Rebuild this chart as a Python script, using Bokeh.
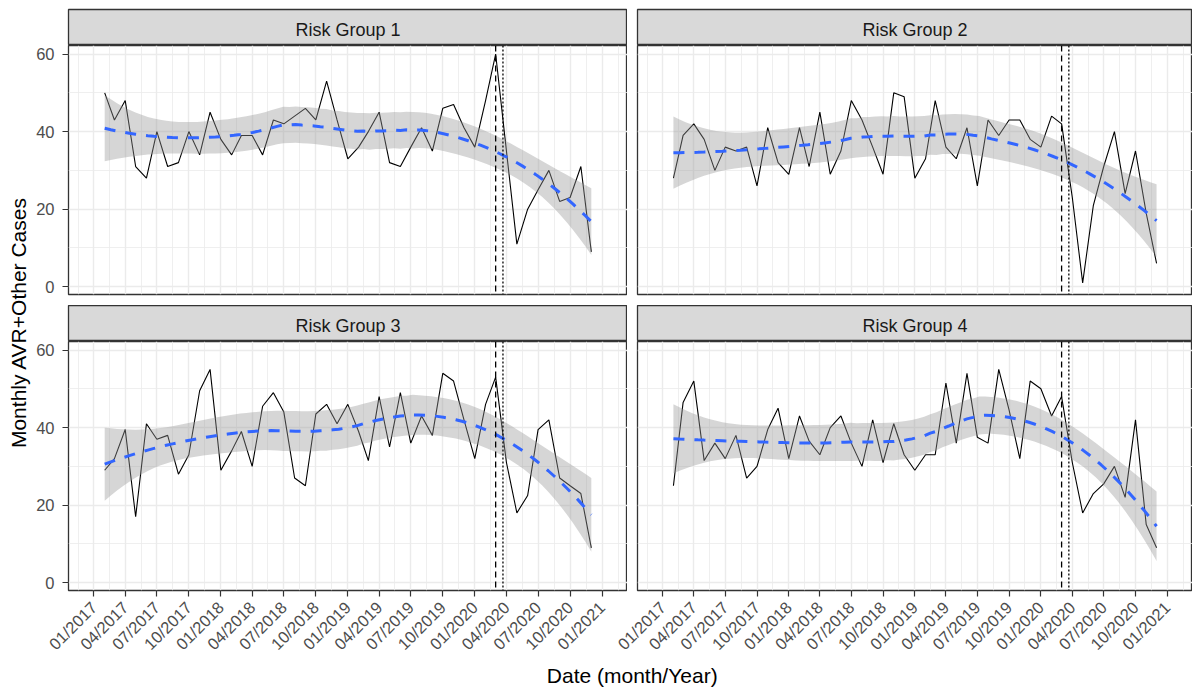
import numpy as np
import pandas as pd
from math import pi
from bokeh.plotting import figure
from bokeh.models import Range1d, FixedTicker, Span, DatetimeTickFormatter
from bokeh.layouts import row, column
from bokeh.embed import file_html
from bokeh.resources import INLINE
from bokeh.core.properties import value

# ---------------- data ----------------
group_names = ["Risk Group 1", "Risk Group 2", "Risk Group 3", "Risk Group 4"]
months = pd.date_range("2017-02-01", "2020-12-01", freq="MS")   # 47 monthly points

rg1 = [50, 43, 48, 31, 28, 40, 31, 32, 40, 34, 45, 38, 34, 39, 39, 34, 43, 42, 44, 46,
       43, 53, 43, 33, 36, 40, 45, 32, 31, 36, 41, 35, 46, 47, 41, 36, 48, 60, 35, 11,
       20, 25, 30, 22, 23, 31, 9]
rg2 = [28, 39, 42, 38, 30, 36, 35, 36, 26, 41, 32, 29, 41, 31, 45, 29, 35, 48, 43, 36,
       29, 50, 49, 28, 33, 48, 36, 33, 41, 26, 43, 39, 43, 43, 38, 36, 44, 42, 23, 1,
       21, 31, 40, 24, 35, 19, 6]
rg3 = [29, 32, 39.5, 17, 41, 37, 38, 28, 33, 49.5, 55, 29, 34, 39, 30, 45.5, 49, 44, 27, 25,
       43.5, 46, 41, 46, 39, 31.5, 48, 35, 49, 36, 43, 38, 54, 52, 42, 32, 46, 53, 31, 18,
       22.5, 39.5, 42, 27, 25, 23, 9]
rg4 = [25, 46.5, 52, 31.5, 36, 32, 38, 27, 30, 39.5, 45, 32, 43, 36.5, 33, 40, 43, 36, 30, 42,
       31, 41, 33, 29, 33, 33, 51.5, 36, 54, 37.5, 36, 55, 44.5, 32, 52, 50, 43, 48, 31, 18,
       23, 25.5, 30, 22, 42, 15, 9]
series = [rg1, rg2, rg3, rg4]

tick_labels = ["01/2017", "04/2017", "07/2017", "10/2017", "01/2018", "04/2018", "07/2018",
               "10/2018", "01/2019", "04/2019", "07/2019", "10/2019", "01/2020", "04/2020",
               "07/2020", "10/2020", "01/2021"]
y_ticks = [0, 20, 40, 60]
y_minor = [10, 30, 50]
vline_dashed = "2020-03-01"
vline_dotted = "2020-03-22"

y_title = "Monthly AVR+Other Cases"
x_title = "Date (month/Year)"

# ---------------- helpers ----------------
MS_DAY = 86400000.0

def to_ms(ts):
    return np.array([pd.Timestamp(t).timestamp() * 1000.0 for t in ts])

x_ms = to_ms(months)
tick_ms = to_ms(pd.to_datetime(tick_labels, format="%m/%Y"))
mids = (tick_ms[:-1] + tick_ms[1:]) / 2
minor_ms = np.concatenate([[tick_ms[0] - (tick_ms[1] - tick_ms[0]) / 2], mids,
                           [tick_ms[-1] + (tick_ms[-1] - tick_ms[-2]) / 2]])
pad = 0.05 * (tick_ms[-1] - tick_ms[0])
x_range = Range1d(tick_ms[0] - pad, tick_ms[-1] + pad)
y_range = Range1d(-2.0, 62.2)


def t_quantile(df, z=1.959963985):
    g1 = (z**3 + z) / 4
    g2 = (5 * z**5 + 16 * z**3 + 3 * z) / 96
    g3 = (3 * z**7 + 19 * z**5 + 17 * z**3 - 15 * z) / 384
    return z + g1 / df + g2 / df**2 + g3 / df**3


def loess_smooth(xd, y, xs, span=0.75):
    """Local quadratic regression (loess) with 95% band, as geom_smooth does."""
    y = np.asarray(y, float)
    n = len(xd)
    q = int(np.floor(n * span))

    def row_w(x0):
        d = np.abs(xd - x0)
        h = np.sort(d)[q - 1]
        w = np.clip(1 - (d / h) ** 3, 0, None) ** 3
        X = np.column_stack([np.ones(n), xd - x0, (xd - x0) ** 2])
        XtW = X.T * w
        return np.linalg.solve(XtW @ X, XtW)[0]

    L = np.array([row_w(x0) for x0 in xd])
    Ls = np.array([row_w(x0) for x0 in xs])
    fit = Ls @ y
    res = y - L @ y
    IL = np.eye(n) - L
    M = IL.T @ IL
    d1 = np.trace(M)
    d2 = np.trace(M @ M)
    s = np.sqrt(np.sum(res ** 2) / d1)
    se = s * np.sqrt(np.sum(Ls ** 2, axis=1))
    t = t_quantile(d1 ** 2 / d2)
    return fit, fit - t * se, fit + t * se


xd = (x_ms - x_ms[0]) / (MS_DAY * 365.0)
xs_ms = np.linspace(x_ms[0], x_ms[-1], 80)
xs_d = (xs_ms - x_ms[0]) / (MS_DAY * 365.0)

FONT = "Liberation Sans"
TOP_B = 9
FRAME_H = 249
STRIP_H = 36
MID_B = 11
LEFT_W, RIGHT_W = 559, 555
GAP = 10
OVERLAP = 30          # right column canvases slide under the left column's right edge
LEFT_B = 36
BOTTOM_B = 72
YT_W = 32


def make_strip(name, left, top):
    w = LEFT_W if left else RIGHT_W
    s = figure(frame_width=w, frame_height=STRIP_H, x_range=(0, 1), y_range=(0, 1),
               x_axis_location=None, y_axis_location=None, toolbar_location=None,
               output_backend="svg", min_border_left=LEFT_B if left else GAP + OVERLAP,
               min_border_right=0, min_border_top=TOP_B if top else 0,
               min_border_bottom=0)
    s.grid.visible = False
    s.background_fill_color = "#D9D9D9"
    s.outline_line_color = "#333333"
    s.outline_line_width = 1.3
    if not left:
        s.border_fill_color = None
    s.text(x=[0.5], y=[0.43], text=[name], text_align="center", text_baseline="middle",
           text_font=value(FONT), text_font_size="18px", text_color="#1A1A1A")
    return s


def make_panel(idx, left, bottom):
    w = LEFT_W if left else RIGHT_W
    p = figure(frame_width=w, frame_height=FRAME_H, x_range=x_range, y_range=y_range,
               x_axis_type="datetime", toolbar_location=None, output_backend="svg",
               x_axis_location="below" if bottom else None,
               y_axis_location="left" if left else None,
               min_border_left=LEFT_B if left else GAP + OVERLAP, min_border_right=0,
               min_border_top=0, min_border_bottom=BOTTOM_B if bottom else MID_B)
    p.outline_line_color = "#333333"
    p.outline_line_width = 1.3
    p.background_fill_color = "white"
    if not left:
        p.border_fill_color = None

    xt = FixedTicker(ticks=list(tick_ms), minor_ticks=list(minor_ms))
    yt = FixedTicker(ticks=y_ticks, minor_ticks=y_minor)
    p.xgrid.ticker = xt
    p.ygrid.ticker = yt
    for g in (p.xgrid, p.ygrid):
        g.grid_line_color = "#EBEBEB"
        g.grid_line_width = 1.4
        g.minor_grid_line_color = "#EBEBEB"
        g.minor_grid_line_width = 0.8

    if bottom:
        ax = p.xaxis[0]
        ax.ticker = xt
        ax.formatter = DatetimeTickFormatter(
            milliseconds="%m/%Y", seconds="%m/%Y", minsec="%m/%Y", minutes="%m/%Y",
            hourmin="%m/%Y", hours="%m/%Y", days="%m/%Y", months="%m/%Y", years="%m/%Y")
        ax.major_label_orientation = pi / 4
        ax.major_label_standoff = 8
    if left:
        ax = p.yaxis[0]
        ax.ticker = yt
        ax.major_label_standoff = 8
    for ax in p.axis:
        ax.axis_line_color = None
        ax.major_tick_in = 0
        ax.major_tick_out = 6
        ax.major_tick_line_color = "#333333"
        ax.major_tick_line_width = 1.2
        ax.minor_tick_line_color = None
        ax.major_label_text_font = FONT
        ax.major_label_text_font_size = "16.5px"
        ax.major_label_text_color = "#4D4D4D"

    y = series[idx]
    fit, lo, hi = loess_smooth(xd, y, xs_d)
    p.line(x_ms, y, line_color="black", line_width=1.1)
    p.varea(x=xs_ms, y1=lo, y2=hi, fill_color="#999999", fill_alpha=0.4)
    p.line(xs_ms, fit, line_color="#3366FF", line_width=3, line_dash="11 10")
    p.add_layout(Span(location=to_ms([vline_dashed])[0], dimension="height",
                      line_color="black", line_width=1.3, line_dash="6 4"))
    p.add_layout(Span(location=to_ms([vline_dotted])[0], dimension="height",
                      line_color="black", line_width=1.3, line_dash="2 2"))
    return p


s1, s2 = make_strip(group_names[0], True, True), make_strip(group_names[1], False, True)
s3, s4 = make_strip(group_names[2], True, False), make_strip(group_names[3], False, False)
p1, p2 = make_panel(0, True, False), make_panel(1, False, False)
p3, p4 = make_panel(2, True, True), make_panel(3, False, True)

grid_w = LEFT_B + LEFT_W + GAP + RIGHT_W
TOTAL_H = 688
XT_H = TOTAL_H - (TOP_B + STRIP_H + FRAME_H + MID_B + STRIP_H + FRAME_H + BOTTOM_B)

xt_fig = figure(frame_width=grid_w, frame_height=XT_H, x_range=(0, 1), y_range=(0, 1),
                x_axis_location=None, y_axis_location=None, toolbar_location=None,
                output_backend="svg", min_border=0)
xt_fig.grid.visible = False
xt_fig.outline_line_color = None
xt_fig.text(x=[0.517], y=[0.5], text=[x_title], text_align="center", text_baseline="middle",
            text_font=value(FONT), text_font_size="21px", text_color="black")

yt_fig = figure(frame_width=YT_W, frame_height=TOTAL_H, x_range=(0, 1), y_range=(0, 1),
                x_axis_location=None, y_axis_location=None, toolbar_location=None,
                output_backend="svg", min_border=0)
yt_fig.grid.visible = False
yt_fig.outline_line_color = None
yt_fig.text(x=[0.578], y=[0.532], text=[y_title], angle=pi / 2, text_align="center",
            text_baseline="middle", text_font=value(FONT), text_font_size="21px",
            text_color="black")

left_col = column(s1, p1, s3, p3)
right_col = column(s2, p2, s4, p4, margin=(0, 0, 0, -OVERLAP))
layout = row(yt_fig, column(row(left_col, right_col), xt_fig))

open("out.html", "w").write(file_html(layout, INLINE))
